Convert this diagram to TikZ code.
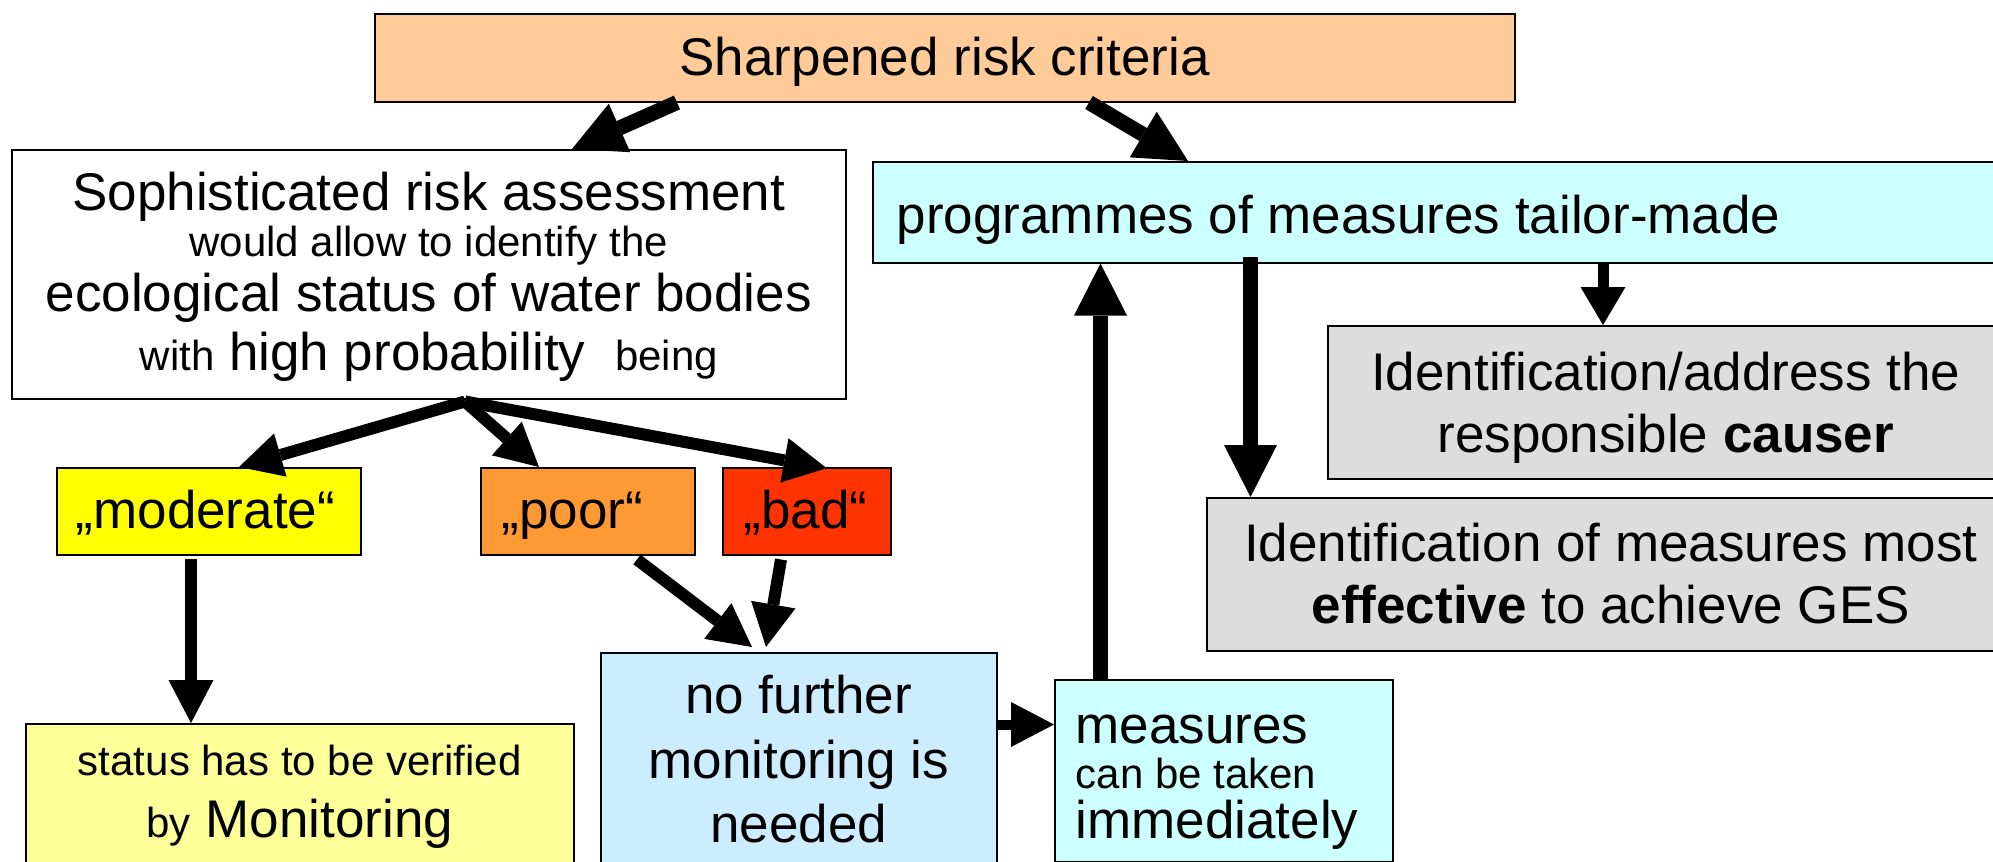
\documentclass[tikz,border=0pt]{standalone}
\usepackage{fontspec}
\setmainfont{Liberation Sans}
\usetikzlibrary{arrows.meta}
\definecolor{peach}{HTML}{FFCC99}
\definecolor{cyanl}{HTML}{CCFFFF}
\definecolor{greyl}{HTML}{DDDDDD}
\definecolor{yel}{HTML}{FFFF00}
\definecolor{orng}{HTML}{FF9933}
\definecolor{redd}{HTML}{FF3300}
\definecolor{yell}{HTML}{FFFF99}
\definecolor{bluel}{HTML}{CCECFF}
\newcommand\tb[4]{\raisebox{0pt}[#1][#2]{\parbox[t]{#3}{\lineskiplimit=-100pt #4}}}
\newcommand\bigf[1]{\fontsize{26.5pt}{#1}\selectfont}
\newcommand\smf{\fontsize{21pt}{25pt}\selectfont}
\begin{document}
\begin{tikzpicture}[x=0.5pt,y=-0.5pt,
  box/.style={draw=black, line width=0.75pt, inner sep=0pt, anchor=north west},
  bigarr/.style={line width=7.5pt, -{Triangle[length=26pt,width=26.5pt,line width=0pt]}},
  smarr/.style={line width=6pt, -{Triangle[length=21.5pt,width=22.5pt,line width=0pt]}},
  medarr/.style={line width=5.5pt, -{Triangle[length=19pt,width=22.5pt,line width=0pt]}}]
\useasboundingbox (0,0) rectangle (1993,862);
\clip (0,0) rectangle (1993,862);

\node[box, fill=peach] (top) at (374,13)
  {\tb{31pt}{13pt}{570pt}{\centering\bigf{31pt}Sharpened risk criteria}};
\node[box, fill=white] (soph) at (11,149)
  {\tb{30.5pt}{94pt}{417pt}{\centering\bigf{29.5pt}Sophisticated risk assessment\\[-6.5pt]
   {\smf would allow to identify the}\\[-2pt]
   ecological status of water bodies\\
   {\smf with} high probability\ \ {\smf being}}};
\node[box, fill=cyanl] (prog) at (872,161)
  {\tb{36pt}{14.5pt}{570pt}{\raggedright\leftskip=12pt\bigf{31pt}programmes of measures tailor-made}};
\node[box, fill=greyl] (idaddr) at (1327,325)
  {\tb{32.5pt}{44pt}{338pt}{\centering\bigf{31pt}Identification/address the\\
   responsible \textbf{causer}}};
\node[box, fill=greyl] (idmeas) at (1206,497)
  {\tb{32pt}{44.5pt}{404pt}{\centering\bigf{31pt}Identification of measures most\\
   \textbf{effective} to achieve GES}};
\node[box, fill=yel] (mod) at (56,467)
  {\tb{30.5pt}{13pt}{152pt}{\raggedright\leftskip=9.5pt\bigf{31pt}„moderate“}};
\node[box, fill=orng] (poor) at (480,467)
  {\tb{30.5pt}{13pt}{107pt}{\raggedright\leftskip=10.5pt\bigf{31pt}„poor“}};
\node[box, fill=redd] (bad) at (722,467)
  {\tb{30.5pt}{13pt}{84pt}{\raggedright\leftskip=10.5pt\bigf{31pt}„bad“}};
\node[box, fill=yell] (status) at (25,723)
  {\tb{26pt}{54pt}{274pt}{\centering\bigf{31pt}{\smf status has to be verified}\\
   {\smf by} Monitoring}};
\node[box, fill=bluel] (nofur) at (600,652)
  {\tb{30.5pt}{84.5pt}{198pt}{\centering\bigf{32.25pt}no further\\monitoring is\\needed}};
\node[box, fill=cyanl] (meas) at (1054,679)
  {\tb{32pt}{59pt}{169pt}{\raggedright\leftskip=10.5pt\bigf{25pt}measures\\[-2.5pt]
   {\smf can be taken}\\
   immediately}};

% arrows
\draw[bigarr] ([xshift=151.5pt]top.south west) -- ([xshift=280.5pt]soph.north west);
\draw[bigarr] ([xshift=357.5pt]top.south west) -- ([xshift=158pt]prog.north west);
\draw[medarr] ([xshift=365.5pt]prog.south west) -- ([xshift=138pt]idaddr.north west);
\draw[bigarr] ([xshift=189.25pt,yshift=3.5pt]prog.south west) -- ([xshift=22.25pt]idmeas.north west);
\draw[bigarr] ([xshift=23.25pt]meas.north west) -- ([xshift=114.25pt]prog.south west);
\draw[smarr, line width=5pt] ([yshift=-36.25pt]nofur.north east) -- ([yshift=-22.75pt]meas.north west);
\draw[smarr] ([xshift=67.5pt,yshift=-1.5pt]mod.south west) -- ([xshift=83pt]status.north west);
\draw[smarr] ([xshift=78.5pt,yshift=-2pt]poor.south west) -- ([xshift=76pt,yshift=2.5pt]nofur.north west);
\draw[smarr] ([xshift=29.5pt,yshift=-2pt]bad.south west) -- ([xshift=83pt,yshift=2.5pt]nofur.north west);
\draw[smarr] ([xshift=227pt,yshift=-1pt]soph.south west) -- ([xshift=91.5pt]mod.north west);
\draw[smarr] ([xshift=227pt,yshift=-1pt]soph.south west) -- ([xshift=29.5pt]poor.north west);
\draw[smarr] ([xshift=227pt,yshift=-1pt]soph.south west) -- ([xshift=52.35pt,yshift=-0.6pt]bad.north west);
\end{tikzpicture}
\end{document}
